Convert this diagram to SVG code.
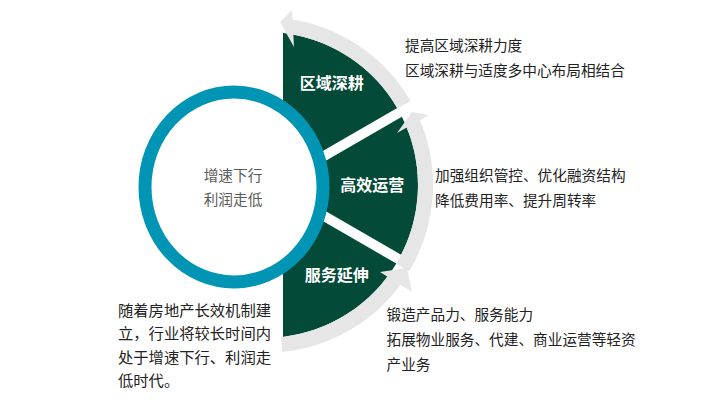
<svg xmlns="http://www.w3.org/2000/svg" width="701" height="410" viewBox="0 0 701 410">
<style>
.seg{fill:#034a39}
.band{fill:none;stroke:#e6e6e6;stroke-width:15}
.head{fill:#e6e6e6}
.lbl{font-family:"Noto Sans CJK SC","Liberation Sans",sans-serif;font-size:16px;font-weight:bold;fill:#ffffff;text-anchor:middle}
.desc{font-family:"Noto Sans CJK SC","Liberation Sans",sans-serif;font-size:14.67px;fill:#222222}
.left{font-family:"Noto Sans CJK SC","Liberation Sans",sans-serif;font-size:15.3px;fill:#222222}
.ctr{font-family:"Noto Sans CJK SC","Liberation Sans",sans-serif;font-size:14.67px;fill:#595959;text-anchor:middle}
</style>
<rect width="701" height="410" fill="#ffffff"/>
<g id="seg-top">
<path class="seg" d="M283,33.1 A153,153 0 0 1 397.2,107.95 L283,173.9 Z"/>
<text class="lbl" x="331.7" y="89">区域深耕</text>
</g>
<g id="seg-middle">
<path class="seg" d="M401.9,116.8 A153,153 0 0 1 401.15,254.8 L283,186.58 L283,185.42 Z"/>
<text class="lbl" x="372.2" y="191.4">高效运营</text>
</g>
<g id="seg-bottom">
<path class="seg" d="M396.3,263.5 A153,153 0 0 1 283,336.9 L283,198.1 Z"/>
<text class="lbl" x="336.7" y="280.8">服务延伸</text>
</g>
<g id="connectors">
<path class="band" d="M404,104.75 A160.5,160.5 0 0 0 288.7,26.3"/>
<polygon class="head" points="280,22 292,10 294,47"/>
<path class="band" d="M402.6,267.7 A160.5,160.5 0 0 0 411.6,119.7"/>
<polygon class="head" points="412,112 429,115 397,133"/>
<path class="band" d="M281.8,344.6 A160.5,160.5 0 0 0 396.5,277.1"/>
<polygon class="head" points="407,268 412,292 380,272"/>
</g>
<g id="center">
<ellipse cx="234" cy="187" rx="89" ry="95" fill="#ffffff" stroke="#0095b4" stroke-width="13"/>
<text class="ctr" x="233" y="181.4">增速下行</text>
<text class="ctr" x="233" y="205">利润走低</text>
</g>
<g id="desc-top">
<text class="desc" x="405" y="51">提高区域深耕力度</text>
<text class="desc" x="405" y="76">区域深耕与适度多中心布局相结合</text>
</g>
<g id="desc-middle">
<text class="desc" x="435" y="181.4">加强组织管控、优化融资结构</text>
<text class="desc" x="435" y="206.4">降低费用率、提升周转率</text>
</g>
<g id="desc-bottom">
<text class="desc" x="386.5" y="320">锻造产品力、服务能力</text>
<text class="desc" x="386.5" y="345">拓展物业服务、代建、商业运营等轻资</text>
<text class="desc" x="386.5" y="370">产业务</text>
</g>
<g id="desc-left">
<text class="left" x="118" y="316">随着房地产长效机制建</text>
<text class="left" x="118" y="339.3">立，行业将较长时间内</text>
<text class="left" x="118" y="362.7">处于增速下行、利润走</text>
<text class="left" x="118" y="386">低时代。</text>
</g>
</svg>
